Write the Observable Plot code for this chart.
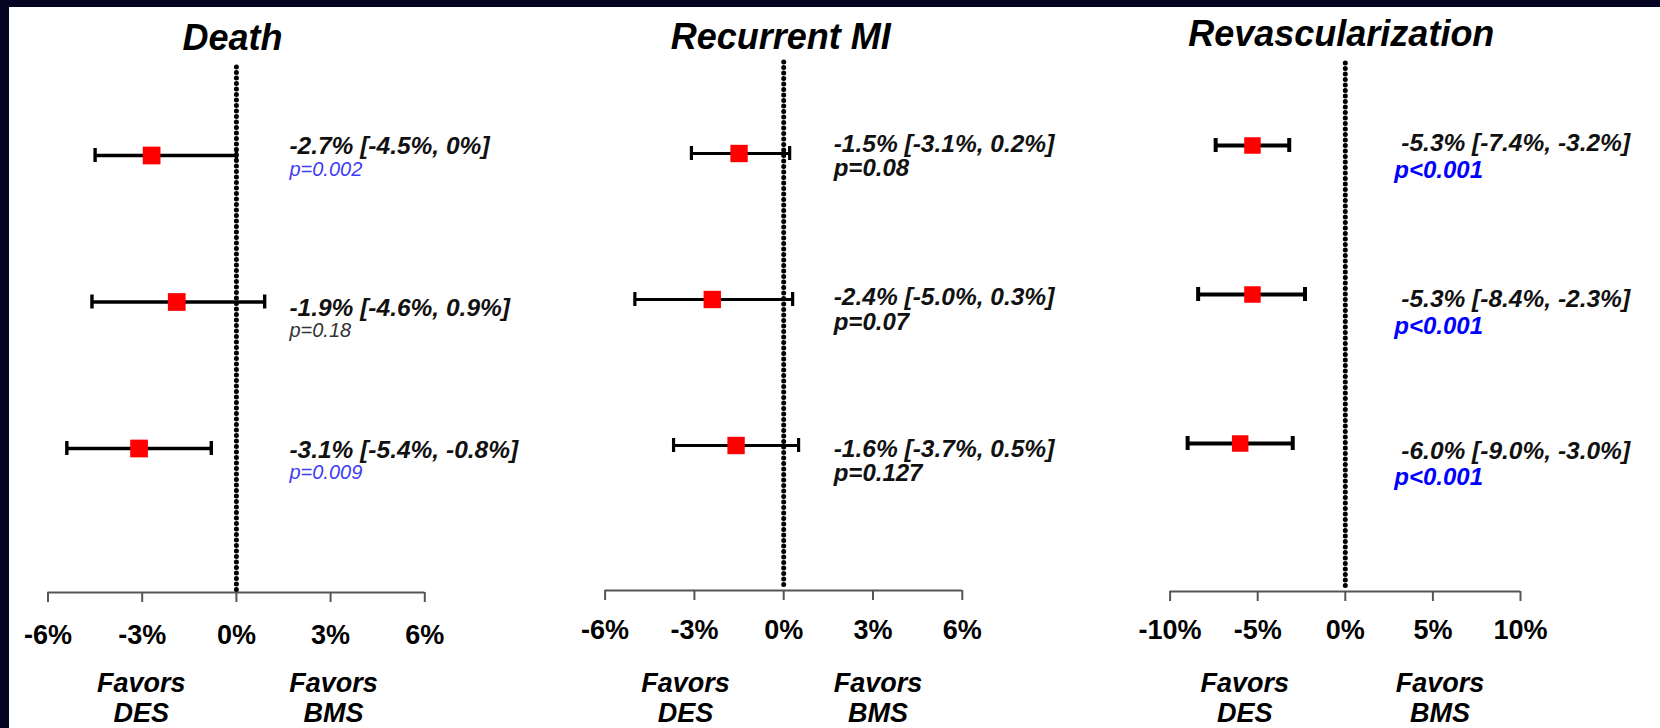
<!DOCTYPE html>
<html><head><meta charset="utf-8">
<script src="https://cdn.jsdelivr.net/npm/d3@7"></script>
<script src="https://cdn.jsdelivr.net/npm/@observablehq/plot@0.6"></script>
<style>
html,body{margin:0;padding:0;background:#040320;width:1660px;height:728px;overflow:hidden;}
#sheet{position:absolute;left:9px;top:7px;right:0;bottom:0;background:#fff;}
.panel{position:absolute;left:0;top:0;width:1660px;height:728px;}
</style></head><body>
<div id="sheet"></div>
<div id="p0" class="panel"></div>
<div id="p1" class="panel"></div>
<div id="p2" class="panel"></div>
<script>
// ---- data ----
const panelTitles = ["Death", "Recurrent MI", "Revascularization"];

const deathEst = [-2.7, -1.9, -3.1];
const deathLo  = [-4.5, -4.6, -5.4];
const deathHi  = [0, 0.9, -0.8];
const deathCI  = ["-2.7% [-4.5%, 0%]", "-1.9% [-4.6%, 0.9%]", "-3.1% [-5.4%, -0.8%]"];
const deathP   = ["p=0.002", "p=0.18", "p=0.009"];

const miEst = [-1.5, -2.4, -1.6];
const miLo  = [-3.1, -5.0, -3.7];
const miHi  = [0.2, 0.3, 0.5];
const miCI  = ["-1.5% [-3.1%, 0.2%]", "-2.4% [-5.0%, 0.3%]", "-1.6% [-3.7%, 0.5%]"];
const miP   = ["p=0.08", "p=0.07", "p=0.127"];

const revEst = [-5.3, -5.3, -6.0];
const revLo  = [-7.4, -8.4, -9.0];
const revHi  = [-3.2, -2.3, -3.0];
const revCI  = ["-5.3% [-7.4%, -3.2%]", "-5.3% [-8.4%, -2.3%]", "-6.0% [-9.0%, -3.0%]"];
const revP   = ["p<0.001", "p<0.001", "p<0.001"];

const ticksSmall = [-6, -3, 0, 3, 6];
const ticksLarge = [-10, -5, 0, 5, 10];
const favorsLabels = ["Favors\nDES", "Favors\nBMS"];

// ---- layout / style (not data) ----
const FONT = "'Liberation Sans', Arial, Helvetica, sans-serif";
const layout = [
  {left: 47.5, right: 424.3, frameTop: 67, frameBottom: 592, rowTop: 155, rowStep: 146.5,
   titleDx: -4, titleDy: -18, textDx: 53, pDx: 53, lineDy: [-2, 14, 9], pDy: [20, 35, 30],
   favorsDx: [-1, 3], favorsDy: 129, barWidth: 3.4, markerR: 10, tickPadding: 22,
   pSize: 20, pWeight: "normal", pColors: ["#3c3cf5", "#333333", "#3c3cf5"]},
  {left: 604.6, right: 961.8, frameTop: 62, frameBottom: 590, rowTop: 153, rowStep: 146,
   titleDx: -3, titleDy: -14, textDx: 50, pDx: 50, lineDy: [-2, 5, 11], pDy: [22, 30, 35],
   favorsDx: [-9, 5], favorsDy: 131, barWidth: 3.2, markerR: 9.8, tickPadding: 19,
   pSize: 24, pWeight: "bold", pColors: ["#111", "#111", "#111"]},
  {left: 1169.6, right: 1520, frameTop: 63, frameBottom: 591, rowTop: 145, rowStep: 149,
   titleDx: -4, titleDy: -18, textDx: 56, pDx: 49, lineDy: [5, 12, 15], pDy: [32, 39, 41],
   favorsDx: [-13, 7], favorsDy: 130, barWidth: 4, markerR: 9.3, tickPadding: 18,
   pSize: 24, pWeight: "bold", pColors: ["#0000ff", "#0000ff", "#0000ff"]}
];

const series = [
  {est: deathEst, lo: deathLo, hi: deathHi, ci: deathCI, p: deathP, ticks: ticksSmall},
  {est: miEst, lo: miLo, hi: miHi, ci: miCI, p: miP, ticks: ticksSmall},
  {est: revEst, lo: revLo, hi: revHi, ci: revCI, p: revP, ticks: ticksLarge}
];

const W = 1660, H = 728;

series.forEach((s, k) => {
  const L = layout[k];
  const rows = s.est.map((e, i) => ({row: i, est: e, lo: s.lo[i], hi: s.hi[i], ci: s.ci[i], p: s.p[i]}));
  const yTop = (L.frameTop - L.rowTop) / L.rowStep;
  const yBot = (L.frameBottom - L.rowTop) / L.rowStep;
  const cap = 7 / L.rowStep;
  const xd = [s.ticks[0], s.ticks[s.ticks.length - 1]];
  const common = {fontFamily: FONT};

  const chart = Plot.plot({
    width: W, height: H,
    marginLeft: L.left, marginRight: W - L.right,
    marginTop: L.frameTop, marginBottom: H - L.frameBottom,
    style: `background: transparent; font-family: ${FONT};`,
    x: {domain: xd},
    y: {domain: [yTop, yBot], reverse: true, axis: null},
    marks: [
      Plot.ruleY([yBot], {stroke: "#555", strokeWidth: 2}),
      Plot.axisX(s.ticks, {
        tickFormat: d => d + "%", tickSize: 10, tickPadding: L.tickPadding,
        stroke: "#555", strokeWidth: 2, fill: "#000",
        fontSize: 27, fontWeight: "bold", fontFamily: FONT, label: null
      }),
      Plot.ruleX([0], {stroke: "#000", strokeWidth: 5, strokeDasharray: "0,5.5", strokeLinecap: "round"}),
      Plot.ruleY(rows, {y: "row", x1: "lo", x2: "hi", stroke: "#000", strokeWidth: L.barWidth}),
      Plot.ruleX(rows, {x: "lo", y1: d => d.row - cap, y2: d => d.row + cap, stroke: "#000", strokeWidth: L.barWidth}),
      Plot.ruleX(rows, {x: "hi", y1: d => d.row - cap, y2: d => d.row + cap, stroke: "#000", strokeWidth: L.barWidth}),
      Plot.dot(rows, {x: "est", y: "row", symbol: "square", r: L.markerR, fill: "#ff0000", stroke: null}),
      Plot.text(rows, {
        x: () => 0, y: (d, i) => d.row + L.lineDy[i] / L.rowStep, text: "ci",
        textAnchor: "start", lineAnchor: "bottom", dx: L.textDx,
        fontSize: 24.5, fontWeight: "bold", fontStyle: "italic", fill: "#111", ...common
      }),
      Plot.text(rows, {
        x: () => 0, y: (d, i) => d.row + L.pDy[i] / L.rowStep, text: "p",
        textAnchor: "start", lineAnchor: "bottom", dx: L.pDx,
        fill: (d, i) => L.pColors[i],
        fontSize: L.pSize, fontWeight: L.pWeight, fontStyle: "italic", ...common
      }),
      Plot.text([panelTitles[k]], {
        x: () => 0, frameAnchor: "top", lineAnchor: "bottom", dx: L.titleDx, dy: L.titleDy,
        fontSize: 36, fontWeight: "bold", fontStyle: "italic", fill: "#000", ...common
      }),
      Plot.text([favorsLabels[0]], {
        x: () => s.ticks[1], frameAnchor: "bottom", lineAnchor: "bottom",
        dx: L.favorsDx[0], dy: L.favorsDy, lineHeight: 30 / 27,
        fontSize: 27, fontWeight: "bold", fontStyle: "italic", fill: "#000", ...common
      }),
      Plot.text([favorsLabels[1]], {
        x: () => s.ticks[3], frameAnchor: "bottom", lineAnchor: "bottom",
        dx: L.favorsDx[1], dy: L.favorsDy, lineHeight: 30 / 27,
        fontSize: 27, fontWeight: "bold", fontStyle: "italic", fill: "#000", ...common
      })
    ]
  });
  document.getElementById("p" + k).appendChild(chart);
});
</script>
</body></html>
